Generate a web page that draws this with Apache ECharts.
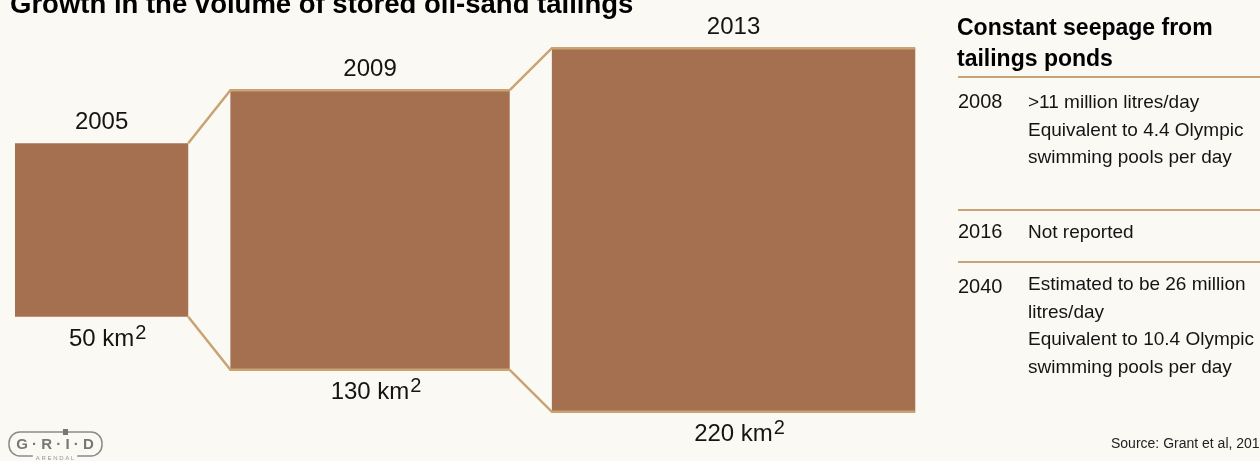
<!DOCTYPE html>
<html>
<head>
<meta charset="utf-8">
<script src="https://cdn.jsdelivr.net/npm/echarts@6/dist/echarts.min.js"></script>
<style>
html,body{margin:0;padding:0;background:#FAF9F4;}
#main{width:1260px;height:461px;}
</style>
</head>
<body>
<div id="main"></div>
<script>
// ---- data ----
const years = ['2005', '2009', '2013'];
const areas = [50, 130, 220];           // km²
const areaUnit = 'km';
const noteYears = ['2008', '2016', '2040'];
const noteLines = [
  ['>11 million litres/day', 'Equivalent to 4.4 Olympic', 'swimming pools per day'],
  ['Not reported'],
  ['Estimated to be 26 million', 'litres/day', 'Equivalent to 10.4 Olympic', 'swimming pools per day']
];
const titleText = 'Growth in the volume of stored oil-sand tailings';
const panelTitle = 'Constant seepage from\ntailings ponds';
const sourceText = 'Source: Grant et al, 2016';

// ---- layout derived from data (side of square = sqrt(area)) ----
const GAP = 1.72;
const centers = [];
(function () {
  let acc = 0;
  areas.forEach(a => { const s = Math.sqrt(a); centers.push(acc + s / 2); acc += s + GAP; });
})();

const FILL = '#A4704F', TAN = '#C9A373', INK = '#141414';
const FONT = '"Liberation Sans", Arial, Helvetica, sans-serif';

const chart = echarts.init(document.getElementById('main'), null, { renderer: 'canvas' });

function corners(api, i) {
  const s = Math.sqrt(areas[i]);
  const c = centers[i];
  const tl = api.coord([c - s / 2, s / 2]);
  const br = api.coord([c + s / 2, -s / 2]);
  return { tl, br, tr: [br[0], tl[1]], bl: [tl[0], br[1]] };
}

function renderItem(params, api) {
  const i = params.dataIndex;
  const k = corners(api, i);
  const cx = (k.tl[0] + k.br[0]) / 2;
  const children = [{
    type: 'rect',
    shape: { x: k.tl[0], y: k.tl[1], width: k.br[0] - k.tl[0], height: k.br[1] - k.tl[1] },
    style: { fill: FILL }
  }];
  if (i > 0) {
    const p = corners(api, i - 1);
    children.push({
      type: 'polyline',
      shape: { points: [p.tr, k.tl, k.tr] },
      style: { stroke: TAN, lineWidth: 2.5, fill: null }
    });
    children.push({
      type: 'polyline',
      shape: { points: [p.br, k.bl, k.br] },
      style: { stroke: TAN, lineWidth: 2.5, fill: null }
    });
  }
  children.push({
    type: 'text',
    style: {
      x: cx, y: k.tl[1] - 21, text: years[i], align: 'center', verticalAlign: 'middle',
      fontSize: 24, fontFamily: FONT, fill: INK
    }
  });
  children.push({
    type: 'text',
    style: {
      x: cx + 6, y: k.br[1] + 23,
      text: '{a|' + areas[i] + ' ' + areaUnit + '}{s|2}',
      align: 'center', verticalAlign: 'middle',
      rich: {
        a: { fontSize: 24, fontFamily: FONT, fill: INK },
        s: { fontSize: 20, fontFamily: FONT, fill: INK, padding: [0, 0, 12, 1] }
      }
    }
  });
  return { type: 'group', children };
}

// ---- right panel ----
const panelX = 957, textX = 1028;
const rowRules = [77, 210, 262];
const rowTops = [89, 219, 271];
const graphics = [];
graphics.push({
  type: 'text', left: 10, top: -9,
  style: { text: titleText, fontSize: 27.5, fontWeight: 'bold', fontFamily: FONT, fill: '#000' }
});
graphics.push({
  type: 'text', x: panelX, y: 13,
  style: { text: panelTitle, fontSize: 23, fontWeight: 'bold', fontFamily: FONT, fill: '#000', lineHeight: 31 }
});
rowRules.forEach(y => {
  graphics.push({ type: 'line', shape: { x1: panelX + 1, y1: y, x2: 1265, y2: y }, style: { stroke: TAN, lineWidth: 2 } });
});
noteYears.forEach((yr, i) => {
  graphics.push({
    type: 'text', x: panelX + 1, y: rowTops[i] + (i === 2 ? 3 : 0),
    style: { text: yr, fontSize: 20, fontFamily: FONT, fill: INK, lineHeight: 27.5 }
  });
  graphics.push({
    type: 'text', x: textX, y: rowTops[i],
    style: { text: noteLines[i].join('\n'), fontSize: 19, fontFamily: FONT, fill: INK, lineHeight: 27.7 }
  });
});
graphics.push({
  type: 'text', x: 1111, y: 437,
  style: { text: sourceText, fontSize: 14, fontFamily: FONT, fill: '#222' }
});
// logo
graphics.push({
  type: 'rect', shape: { x: 9, y: 432, width: 93, height: 24, r: 11 },
  style: { stroke: '#8a8a8a', lineWidth: 1.5, fill: null }
});
graphics.push({
  type: 'text', x: 55, y: 445,
  style: { text: 'G · R · I · D', align: 'center', verticalAlign: 'middle', fontSize: 15, fontWeight: 'bold', fontFamily: FONT, fill: '#777' }
});
graphics.push({
  type: 'rect', shape: { x: 63, y: 429, width: 5, height: 6 },
  style: { fill: '#777' }
});
graphics.push({
  type: 'text', x: 55, y: 458,
  style: { text: 'A R E N D A L', align: 'center', verticalAlign: 'middle', fontSize: 6, fontFamily: FONT, fill: '#999', backgroundColor: '#FAF9F4', padding: [0, 3] }
});

chart.setOption({
  backgroundColor: '#FAF9F4',
  animation: false,
  grid: { left: 15, top: 2, width: 1225, height: 456 },
  xAxis: { type: 'value', min: 0, max: 50, show: false },
  yAxis: { type: 'value', min: -9.3, max: 9.3, show: false },
  graphic: graphics,
  series: [{
    type: 'custom',
    renderItem: renderItem,
    data: centers.map((c, i) => [c, areas[i]]),
    clip: false,
    silent: true
  }]
});
</script>
</body>
</html>
